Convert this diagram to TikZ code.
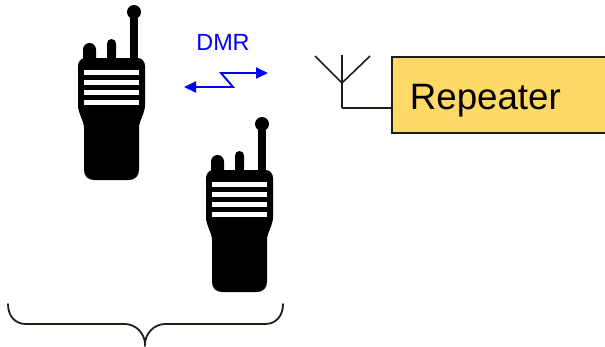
\documentclass[tikz,border=0pt]{standalone}
\usepackage{fontspec}
\setmainfont{Liberation Sans}
\usetikzlibrary{arrows.meta,positioning}
\definecolor{linkblue}{RGB}{0,0,255}
\definecolor{boxyellow}{RGB}{255,217,102}
\definecolor{boxline}{RGB}{30,30,20}

\begin{document}
\begin{tikzpicture}[
    x=1pt, y=-1pt,
    repeater/.style={rectangle, draw=boxline, line width=1.7pt, fill=boxyellow, anchor=west, align=left, text width=180pt, inner xsep=18pt, inner ysep=0pt, text height=34pt, text depth=6pt, minimum height=76pt, font=\fontsize{36.7}{44}\selectfont},
    label/.style={text=linkblue, font=\fontsize{23.4}{28}\selectfont, inner sep=0pt},
    link/.style={{Triangle[length=12pt,width=11pt]}-{Triangle[length=12pt,width=11pt]}, draw=linkblue, line width=1.9pt, line join=miter},
    wire/.style={draw=boxline, line width=1.6pt},
    brace/.style={draw=boxline, line width=1.8pt, line cap=round},
    radio/.pic={
      \fill[black] (85,58) -- (138,58) .. controls (142,58) and (145,62) .. (145,66) -- (145,105)
        .. controls (145,114) and (139,120) .. (139,128) -- (139,170)
        .. controls (139,176) and (135,180) .. (129,180) -- (94,180)
        .. controls (88,180) and (84,176) .. (84,170) -- (84,128)
        .. controls (84,120) and (78,114) .. (78,105) -- (78,66)
        .. controls (78,62) and (81,58) .. (85,58) -- cycle;
      \fill[black] (83,60) -- (83,49.5) arc[start angle=180, end angle=0, x radius=6.5, y radius=-6.5] -- (96,60) -- cycle;
      \fill[black] (107,60) -- (107,43.5) arc[start angle=180, end angle=0, x radius=4.5, y radius=-4.5] -- (116,60) -- cycle;
      \fill[black] (130,60) rectangle (138,12);
      \fill[black] (134,12) circle[radius=7];
      \foreach \y in {70,80,89.5,99.5}
        \fill[white] (84,\y) rectangle (139,\y+5);
    }
  ]
    \useasboundingbox (0,0) rectangle (605,346);

    \pic at (0,0) {radio};
    \pic at (128,112) {radio};

    \node[label] (dmr) at (223,42) {DMR};
    \coordinate (linkl) at (184,87);
    \coordinate (linkr) at (268,73);
    \draw[link] (linkl) -- (233,87) -- (221,73) -- (linkr);

    \node[repeater] (rep) at (391,95) {Repeater};
    \coordinate (ant) at (342,83);
    \coordinate (foot) at (342,108);
    \draw[wire] (315,56) -- (ant) -- (370,56);
    \draw[wire] (342,55) -- (foot);
    \draw[wire] (foot) -- (foot -| rep.west);

    \draw[brace] (8,304) .. controls (8,316) and (15,324) .. (26,324) -- (125,324)
      .. controls (136,324) and (145,334) .. (145,344)
      .. controls (145,334) and (154,324) .. (165,324) -- (265,324)
      .. controls (276,324) and (283,316) .. (283,304);
  \end{tikzpicture}
\end{document}
